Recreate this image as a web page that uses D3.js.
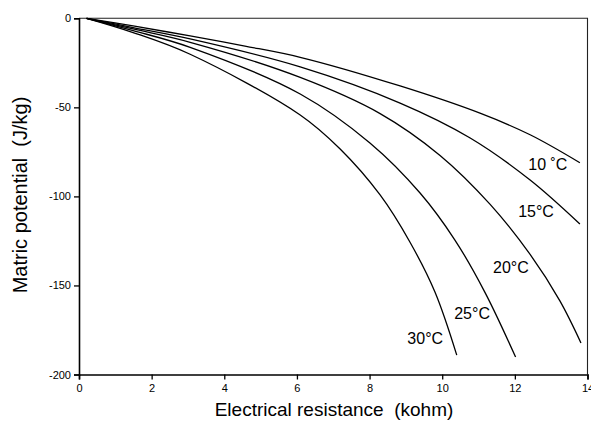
<!DOCTYPE html>
<html>
<head>
<meta charset="utf-8">
<script src="https://cdn.jsdelivr.net/npm/d3@7/dist/d3.min.js"></script>
<style>
  html, body { margin: 0; padding: 0; background: #fff; }
  svg { display: block; }
  text { font-family: "Liberation Sans", Arial, Helvetica, sans-serif; fill: #000; white-space: pre; }
</style>
</head>
<body>
<svg id="chart" width="591" height="422"></svg>
<script>
// ---- Data ----
const seriesNames = ["10 \u02DAC", "15\u00B0C", "20\u00B0C", "25\u00B0C", "30\u00B0C"];

const res10 = [0.21, 1.49, 3.06, 4.57, 6.09, 8.84, 11.04, 12.42, 13.79];
const pot10 = [0, -4.3, -9.9, -15.6, -21.9, -38.0, -53.3, -65.4, -81.1];

const res15 = [0.21, 1.49, 3.06, 6.09, 8.84, 10.77, 12.42, 13.79];
const pot15 = [0, -5.2, -11.6, -27.3, -47.6, -67.2, -90.8, -115.5];

const res20 = [0.21, 1.49, 3.06, 6.09, 8.29, 9.94, 11.32, 12.42, 13.24, 13.82];
const pot20 = [0, -6.0, -13.5, -33.2, -53.5, -77.0, -104.5, -132.6, -158.7, -182.3];

const res25 = [0.21, 1.49, 3.06, 6.09, 8.01, 9.39, 10.35, 11.18, 12.02];
const pot25 = [0, -6.9, -16.3, -42.5, -70.0, -98.1, -124.5, -154.0, -190.2];

const res30 = [0.21, 1.49, 3.06, 6.09, 7.19, 8.29, 9.11, 9.80, 10.40];
const pot30 = [0, -8.0, -20.2, -54.3, -73.4, -99.2, -125.6, -153.7, -189.1];

const xTicks = [0, 2, 4, 6, 8, 10, 12, 14];
const yTicks = [0, -50, -100, -150, -200];

const xTitle = "Electrical resistance  (kohm)";
const yTitle = "Matric potential  (J/kg)";

// ---- Build ----
const series = [
  {name: seriesNames[0], xs: res10, ys: pot10},
  {name: seriesNames[1], xs: res15, ys: pot15},
  {name: seriesNames[2], xs: res20, ys: pot20},
  {name: seriesNames[3], xs: res25, ys: pot25},
  {name: seriesNames[4], xs: res30, ys: pot30}
].map(s => ({name: s.name, pts: s.xs.map((v, i) => [v, s.ys[i]])}));

const W = 591, H = 422;
const m = {left: 79, right: 3.5, top: 18.3, bottom: 47.5};

const x = d3.scaleLinear().domain([0, 14]).range([m.left, W - m.right]);
const y = d3.scaleLinear().domain([-200, 0]).range([H - m.bottom, m.top]);

const svg = d3.select("#chart");

// frame (top & right)
svg.append("path")
  .attr("d", `M${x(0)},${y(0)}H${x(14)}V${y(-200)}`)
  .attr("fill", "none").attr("stroke", "#222").attr("stroke-width", 1.1);

// axes
const gx = svg.append("g")
  .attr("transform", `translate(0,${y(-200)})`)
  .call(d3.axisBottom(x).tickValues(xTicks).tickFormat(d3.format("d")).tickSizeOuter(0).tickSize(5).tickPadding(5));
const gy = svg.append("g")
  .attr("transform", `translate(${x(0)},0)`)
  .call(d3.axisLeft(y).tickValues(yTicks).tickFormat(d3.format("d")).tickSizeOuter(0).tickSize(5).tickPadding(3));

[gx, gy].forEach(g => {
  g.selectAll("path.domain").attr("stroke", "#000").attr("stroke-width", 1.6);
  g.selectAll(".tick line").attr("stroke", "#000").attr("stroke-width", 1.3);
  g.selectAll(".tick text")
    .style("font-family", '"Liberation Sans", Arial, sans-serif')
    .style("font-size", "11px").attr("fill", "#000");
});
gy.selectAll(".tick text").text(d => d === 0 ? "0" : "-" + Math.abs(d));

// curves
const line = d3.line().x(d => x(d[0])).y(d => y(d[1])).curve(d3.curveCatmullRom.alpha(0.5));
svg.append("g").selectAll("path.curve")
  .data(series).join("path")
  .attr("class", "curve")
  .attr("d", d => line(d.pts))
  .attr("fill", "none").attr("stroke", "#000").attr("stroke-width", 1.3);

// curve labels (anchor in data units)
const labelAt = [[12.37, -85.2], [12.09, -111.6], [11.40, -143.1], [10.33, -168.9], [9.04, -182.9]];
svg.append("g").selectAll("text.lbl")
  .data(series).join("text")
  .attr("class", "lbl")
  .attr("x", (d, i) => x(labelAt[i][0]))
  .attr("y", (d, i) => y(labelAt[i][1]))
  .style("font-size", "16px")
  .text(d => d.name);

// axis titles
svg.append("text")
  .attr("xml:space", "preserve")
  .attr("x", 334).attr("y", 416)
  .attr("text-anchor", "middle").style("font-size", "19px")
  .text(xTitle);
svg.append("text")
  .attr("xml:space", "preserve")
  .attr("transform", `translate(27,195) rotate(-90)`)
  .attr("text-anchor", "middle").style("font-size", "20px")
  .text(yTitle);
</script>
</body>
</html>
